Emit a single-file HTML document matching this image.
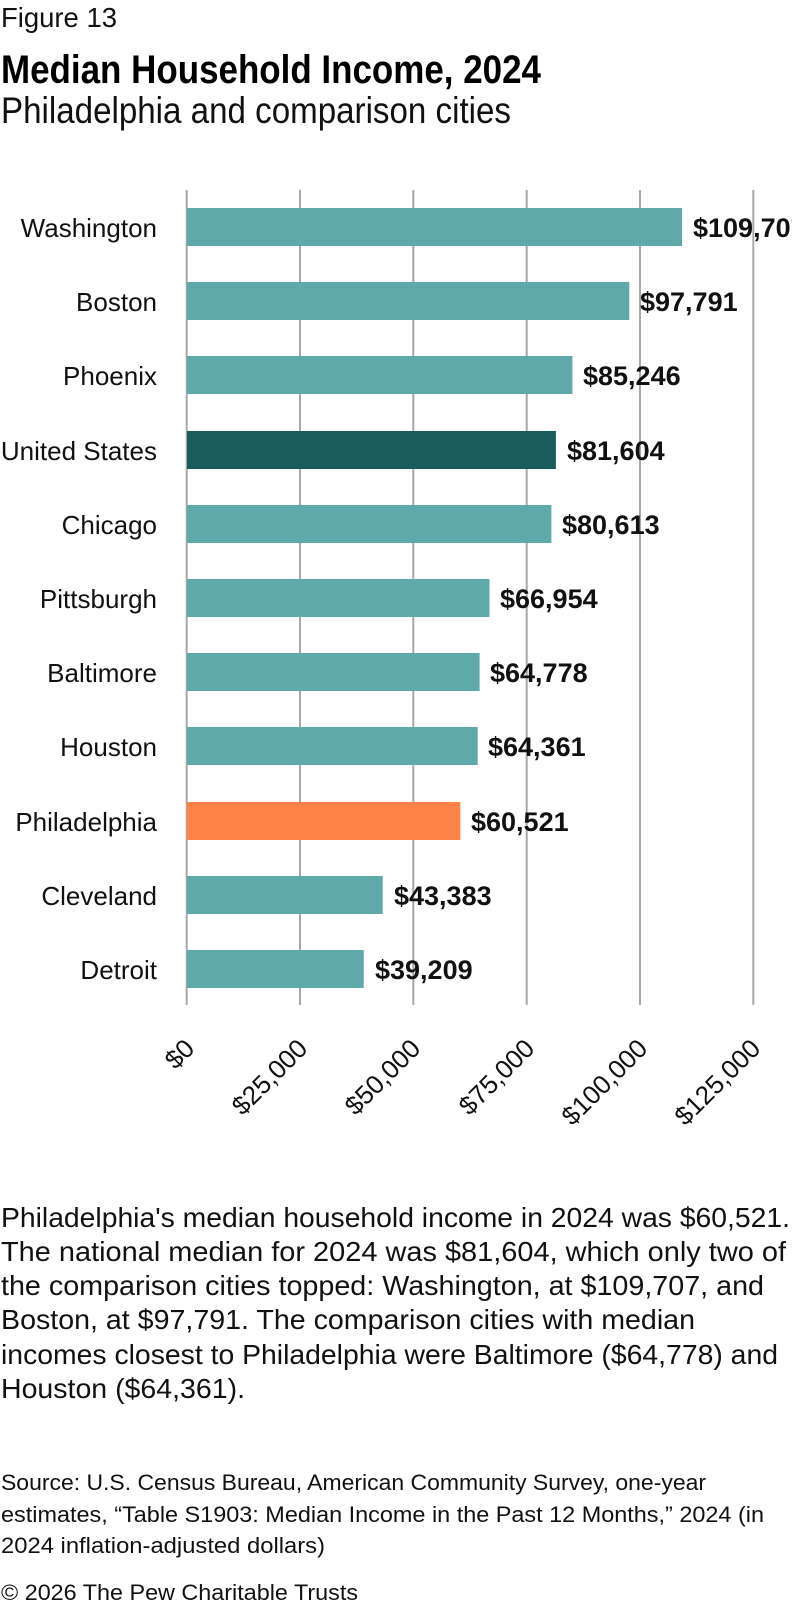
<!DOCTYPE html>
<html><head><meta charset="utf-8"><style>
html,body{margin:0;padding:0;background:#fff;}
svg{display:block;font-family:"Liberation Sans",sans-serif;}
</style></head><body>
<svg width="792" height="1610" viewBox="0 0 792 1610" xmlns="http://www.w3.org/2000/svg">
<text x="1" y="27" font-size="28" fill="#111" textLength="116" lengthAdjust="spacingAndGlyphs">Figure 13</text>
<text x="1" y="83" font-size="40" font-weight="bold" fill="#000" textLength="540" lengthAdjust="spacingAndGlyphs">Median Household Income, 2024</text>
<text x="1" y="123" font-size="37" fill="#111" textLength="510" lengthAdjust="spacingAndGlyphs">Philadelphia and comparison cities</text>
<g stroke="#a8a8a8" stroke-width="2">
<line x1="186.7" y1="190" x2="186.7" y2="1005"/>
<line x1="300" y1="190" x2="300" y2="1005"/>
<line x1="413.3" y1="190" x2="413.3" y2="1005"/>
<line x1="526.7" y1="190" x2="526.7" y2="1005"/>
<line x1="640" y1="190" x2="640" y2="1005"/>
<line x1="753.3" y1="190" x2="753.3" y2="1005"/>
</g>
<g font-size="26" fill="#111" text-anchor="end">
<text x="157" y="237">Washington</text>
<text x="157" y="311">Boston</text>
<text x="157" y="385">Phoenix</text>
<text x="157" y="460">United States</text>
<text x="157" y="534">Chicago</text>
<text x="157" y="608">Pittsburgh</text>
<text x="157" y="682">Baltimore</text>
<text x="157" y="756">Houston</text>
<text x="157" y="831">Philadelphia</text>
<text x="157" y="905">Cleveland</text>
<text x="157" y="979">Detroit</text>
</g>
<g>
<rect x="187" y="208" width="495" height="38" fill="#5fa9aa"/>
<rect x="187" y="282" width="442.3" height="38" fill="#5fa9aa"/>
<rect x="187" y="356" width="385.4" height="38" fill="#5fa9aa"/>
<rect x="187" y="431" width="368.9" height="38" fill="#185c5c"/>
<rect x="187" y="505" width="364.4" height="38" fill="#5fa9aa"/>
<rect x="187" y="579" width="302.5" height="38" fill="#5fa9aa"/>
<rect x="187" y="653" width="292.6" height="38" fill="#5fa9aa"/>
<rect x="187" y="727" width="290.7" height="38" fill="#5fa9aa"/>
<rect x="187" y="802" width="273.3" height="38" fill="#ff8248"/>
<rect x="187" y="876" width="195.7" height="38" fill="#5fa9aa"/>
<rect x="187" y="950" width="176.7" height="38" fill="#5fa9aa"/>
</g>
<g font-size="27" font-weight="bold" fill="#111">
<text x="693" y="237">$109,707</text>
<text x="640" y="311">$97,791</text>
<text x="583" y="385">$85,246</text>
<text x="567" y="460">$81,604</text>
<text x="562" y="534">$80,613</text>
<text x="500" y="608">$66,954</text>
<text x="490" y="682">$64,778</text>
<text x="488" y="756">$64,361</text>
<text x="471" y="831">$60,521</text>
<text x="394" y="905">$43,383</text>
<text x="375" y="979">$39,209</text>
</g>
<g font-size="26" fill="#111" text-anchor="end">
<text transform="translate(196,1050) rotate(-45)">$0</text>
<text transform="translate(309,1050) rotate(-45)">$25,000</text>
<text transform="translate(422,1050) rotate(-45)">$50,000</text>
<text transform="translate(536,1050) rotate(-45)">$75,000</text>
<text transform="translate(649,1050) rotate(-45)">$100,000</text>
<text transform="translate(762,1050) rotate(-45)">$125,000</text>
</g>
<g font-size="28" fill="#111">
<text x="1" y="1227" textLength="789" lengthAdjust="spacingAndGlyphs">Philadelphia's median household income in 2024 was $60,521.</text>
<text x="1" y="1261" textLength="785" lengthAdjust="spacingAndGlyphs">The national median for 2024 was $81,604, which only two of</text>
<text x="1" y="1295" textLength="763" lengthAdjust="spacingAndGlyphs">the comparison cities topped: Washington, at $109,707, and</text>
<text x="1" y="1329" textLength="694" lengthAdjust="spacingAndGlyphs">Boston, at $97,791. The comparison cities with median</text>
<text x="1" y="1364" textLength="777" lengthAdjust="spacingAndGlyphs">incomes closest to Philadelphia were Baltimore ($64,778) and</text>
<text x="1" y="1398" textLength="244" lengthAdjust="spacingAndGlyphs">Houston ($64,361).</text>
</g>
<g font-size="22" fill="#111">
<text x="1" y="1490" textLength="705" lengthAdjust="spacingAndGlyphs">Source: U.S. Census Bureau, American Community Survey, one-year</text>
<text x="1" y="1522" textLength="763" lengthAdjust="spacingAndGlyphs">estimates, “Table S1903: Median Income in the Past 12 Months,” 2024 (in</text>
<text x="1" y="1553" textLength="324" lengthAdjust="spacingAndGlyphs">2024 inflation-adjusted dollars)</text>
<text x="1" y="1600" textLength="357" lengthAdjust="spacingAndGlyphs">© 2026 The Pew Charitable Trusts</text>
</g>
</svg>
</body></html>
